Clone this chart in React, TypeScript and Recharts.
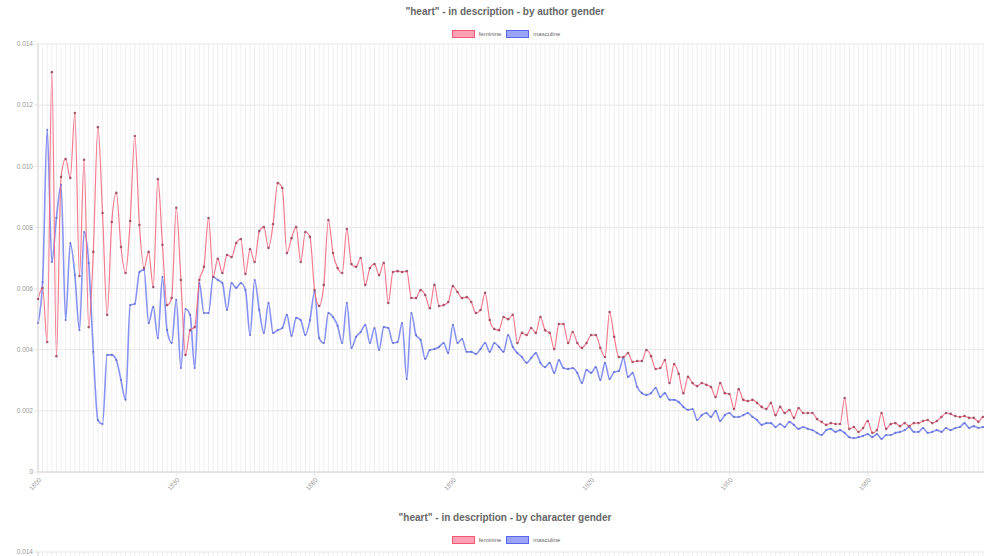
import { LineChart, Line, XAxis, YAxis, CartesianGrid } from 'recharts';

// yearly share of "heart" in description, 1800-2010
const FIRST_YEAR = 1800;

const feminine = [
  0.00566, 0.00602, 0.00425, 0.01308, 0.00379, 0.00965, 0.01024, 0.00962, 0.01174, 0.00641,
  0.01021, 0.00474, 0.0072, 0.01128, 0.00847, 0.00514, 0.00818, 0.00913, 0.00736, 0.00651,
  0.00821, 0.01099, 0.00808, 0.00667, 0.0072, 0.00605, 0.00958, 0.00743, 0.00546, 0.00569,
  0.00864, 0.00628, 0.00383, 0.00464, 0.00474, 0.00628, 0.00671, 0.00831, 0.00638, 0.00697,
  0.00651, 0.0071, 0.00703, 0.00749, 0.00762, 0.00648, 0.00729, 0.00687, 0.00788, 0.00801,
  0.00733, 0.00811, 0.00945, 0.00929, 0.00716, 0.00765, 0.00801, 0.00687, 0.00785, 0.00769,
  0.00595, 0.00543, 0.00612, 0.00824, 0.00716, 0.00667, 0.00651, 0.00795, 0.0068, 0.00671,
  0.007, 0.00612, 0.00667, 0.0068, 0.00644, 0.00684, 0.00553, 0.00654, 0.00657, 0.00654,
  0.00657, 0.00569, 0.00569, 0.00595, 0.00579, 0.00536, 0.00612, 0.00543, 0.00546, 0.00556,
  0.00608, 0.00589, 0.00569, 0.00572, 0.00556, 0.0052, 0.0053, 0.00586, 0.00497, 0.00468,
  0.00464, 0.00507, 0.005, 0.00514, 0.00422, 0.00455, 0.00448, 0.00471, 0.00455, 0.00507,
  0.00464, 0.00455, 0.00402, 0.00484, 0.00484, 0.00422, 0.00458, 0.00422, 0.00406, 0.00422,
  0.00448, 0.00448, 0.00406, 0.00376, 0.00523, 0.00442, 0.00376, 0.00376, 0.00389, 0.0036,
  0.00363, 0.00363, 0.00399, 0.00379, 0.00337, 0.0034, 0.00366, 0.00291, 0.00353, 0.00321,
  0.00258, 0.00311, 0.00291, 0.00281, 0.00291, 0.00285, 0.00278, 0.00245, 0.00291, 0.00258,
  0.00255, 0.00206, 0.00271, 0.00236, 0.00232, 0.00236, 0.00226, 0.00213, 0.00206, 0.00226,
  0.00186, 0.00213, 0.00193, 0.00203, 0.00177, 0.00209, 0.00193, 0.00193, 0.00193, 0.00173,
  0.00164, 0.00154, 0.0016, 0.00157, 0.00157, 0.00242, 0.00141, 0.00147, 0.00131, 0.00144,
  0.00167, 0.00128, 0.00137, 0.00193, 0.00141, 0.00157, 0.0016, 0.0015, 0.0016, 0.0015,
  0.0016, 0.0016, 0.00167, 0.0017, 0.0016, 0.00167, 0.0018, 0.00193, 0.0019, 0.00183,
  0.0018, 0.00183, 0.00177, 0.00177, 0.00164, 0.0018, 0.00175, 0.0018, 0.00172, 0.00178,
  0.0017,
];

const masculine = [
  0.00487, 0.0062, 0.01119, 0.00687, 0.00831, 0.00939, 0.00497, 0.00749, 0.00644, 0.00464,
  0.00785, 0.00684, 0.00393, 0.0017, 0.00157, 0.00383, 0.00383, 0.00366, 0.00301, 0.00236,
  0.00546, 0.0055, 0.00654, 0.00661, 0.00487, 0.0054, 0.00438, 0.00638, 0.00464, 0.00422,
  0.00563, 0.0034, 0.00533, 0.00514, 0.0034, 0.00618, 0.0052, 0.0052, 0.00638, 0.00628,
  0.00618, 0.0053, 0.00618, 0.00602, 0.00618, 0.00595, 0.00448, 0.00628, 0.0053, 0.00455,
  0.00553, 0.00455, 0.00464, 0.00471, 0.00514, 0.00445, 0.00504, 0.00497, 0.00448, 0.00497,
  0.00589, 0.00438, 0.00422, 0.0052, 0.00507, 0.00478, 0.00422, 0.00553, 0.00406, 0.00442,
  0.00458, 0.00481, 0.00422, 0.00471, 0.00399, 0.00474, 0.00471, 0.00422, 0.00425, 0.00487,
  0.00304, 0.0052, 0.00448, 0.00432, 0.0037, 0.00399, 0.00402, 0.00409, 0.00422, 0.00389,
  0.00481, 0.00422, 0.00435, 0.00393, 0.00393, 0.00386, 0.00402, 0.00422, 0.00393, 0.00422,
  0.00409, 0.00393, 0.00448, 0.00409, 0.00389, 0.00376, 0.00357, 0.00373, 0.00389, 0.00357,
  0.00343, 0.00357, 0.00324, 0.00366, 0.0034, 0.00337, 0.0034, 0.00324, 0.00291, 0.00334,
  0.00324, 0.00343, 0.00301, 0.00357, 0.00304, 0.00327, 0.0033, 0.00373, 0.00311, 0.00324,
  0.00278, 0.00258, 0.00252, 0.00258, 0.00275, 0.00245, 0.00258, 0.00236, 0.00236, 0.00229,
  0.00213, 0.00203, 0.00206, 0.0017, 0.00186, 0.00193, 0.0018, 0.002, 0.00167, 0.00186,
  0.00193, 0.0018, 0.0018, 0.00186, 0.00193, 0.0018, 0.0017, 0.00154, 0.0016, 0.0016,
  0.00147, 0.00157, 0.00147, 0.00164, 0.00154, 0.00141, 0.00147, 0.00141, 0.00137, 0.00128,
  0.00121, 0.00137, 0.00141, 0.00131, 0.00137, 0.00128, 0.00114, 0.00111, 0.00114, 0.00118,
  0.00124, 0.00114, 0.00124, 0.00108, 0.00121, 0.00121, 0.00128, 0.00131, 0.00137, 0.00147,
  0.00131, 0.00131, 0.00144, 0.00128, 0.00131, 0.00137, 0.00131, 0.00144, 0.00137, 0.00144,
  0.00147, 0.0016, 0.00144, 0.0015, 0.00144, 0.00147, 0.0014, 0.00145, 0.00142, 0.00148,
  0.00144,
];

const years = feminine.map((_, i) => String(FIRST_YEAR + i));
const yTicks = [0, 0.002, 0.004, 0.006, 0.008, 0.01, 0.012, 0.014];

const authorData = years.map((year, i) => ({
  year,
  feminine: feminine[i],
  masculine: masculine[i],
}));
// second chart is cut off by the frame, only its header and top edge show
const characterData = years.map(year => ({ year }));

const FONT = "'Helvetica Neue', Helvetica, 'Liberation Sans', Arial, sans-serif";
const RED = 'rgba(245, 100, 125, 0.85)';
const BLUE = 'rgba(95, 110, 240, 0.75)';

const legendItems = [
  { name: 'feminine', fill: 'rgba(255, 99, 132, 0.6)', border: 'rgb(240, 90, 115)' },
  { name: 'masculine', fill: 'rgba(100, 115, 245, 0.65)', border: 'rgb(90, 100, 235)' },
];

const fmtY = (v: number) => (v === 0 ? '0' : v.toFixed(3));

// a line for every year, like the chart.js category grid
const everyYear = (props: any) => {
  try {
    const s = props?.xAxis?.scale;
    if (typeof s === 'function') return years.map(y => s(y));
    if (s && typeof s.map === 'function') return years.map(y => s.map(y));
  } catch (e) {
    // fall through to the plain layout below
  }
  const off = props?.offset;
  if (!off) return [];
  return years.map((_, i) => off.left + (i * off.width) / (years.length - 1));
};

function Header({ title }: { title: string }) {
  return (
    <>
      <div
        style={{
          position: 'absolute', top: 6, left: 0, width: 1010, textAlign: 'center',
          fontFamily: FONT, fontSize: 10, fontWeight: 'bold', color: '#666',
        }}
      >
        {title}
      </div>
      <div
        style={{
          position: 'absolute', top: 30, left: 0, width: 1012, display: 'flex',
          justifyContent: 'center', gap: 5, fontFamily: FONT, fontSize: 6, color: '#666',
        }}
      >
        {legendItems.map(item => (
          <div key={item.name} style={{ display: 'flex', alignItems: 'center', gap: 4 }}>
            <span
              style={{
                width: 21, height: 6, background: item.fill,
                border: `1px solid ${item.border}`, display: 'inline-block',
              }}
            />
            <span>{item.name}</span>
          </div>
        ))}
      </div>
    </>
  );
}

function GenderChart({ title, data, top, plotTop, lines }: any) {
  return (
    <div style={{ position: 'absolute', top, left: 0, width: 1015, height: 505 }}>
      <Header title={title} />
      <LineChart
        width={1015}
        height={505}
        data={data}
        margin={{ top: plotTop, right: 9, bottom: 0, left: 0 }}
      >
        <CartesianGrid horizontal={false} stroke="#f0f0f0" verticalCoordinatesGenerator={everyYear} />
        <CartesianGrid vertical={false} stroke="#e8e8e8" />
        <XAxis
          dataKey="year"
          interval={29}
          height={33}
          angle={-50}
          textAnchor="end"
          tickSize={4}
          tickMargin={1}
          tick={{ fontSize: 6.5, fill: '#999', fontFamily: FONT }}
          axisLine={{ stroke: '#d4d4d4' }}
          tickLine={{ stroke: '#e4e4e4' }}
        />
        <YAxis
          domain={[0, 0.014]}
          ticks={yTicks}
          tickFormatter={fmtY}
          width={38}
          tickSize={4}
          tickMargin={1}
          tick={{ fontSize: 6.5, fill: '#999', fontFamily: FONT }}
          axisLine={{ stroke: '#d4d4d4' }}
          tickLine={{ stroke: '#e4e4e4' }}
          allowDataOverflow
        />
        {lines && (
          <Line
            type="monotone"
            dataKey="masculine"
            stroke={BLUE}
            strokeWidth={1.6}
            dot={{ r: 1.1, fill: 'rgba(90, 100, 200, 0.7)', stroke: 'none' }}
            isAnimationActive={false}
          />
        )}
        {lines && (
          <Line
            type="monotone"
            dataKey="feminine"
            stroke={RED}
            strokeWidth={1.2}
            dot={{ r: 1.3, fill: 'rgba(150, 70, 95, 0.85)', stroke: 'none' }}
            isAnimationActive={false}
          />
        )}
      </LineChart>
    </div>
  );
}

export default function App() {
  return (
    <div style={{ position: 'relative', width: 984, height: 556, overflow: 'hidden', background: '#fff' }}>
      <style>{'body { margin: 0; }'}</style>
      <GenderChart
        title={'"heart" - in description - by author gender'}
        data={authorData}
        top={0}
        plotTop={44}
        lines
      />
      <GenderChart
        title={'"heart" - in description - by character gender'}
        data={characterData}
        top={506}
        plotTop={46}
        lines={false}
      />
    </div>
  );
}
